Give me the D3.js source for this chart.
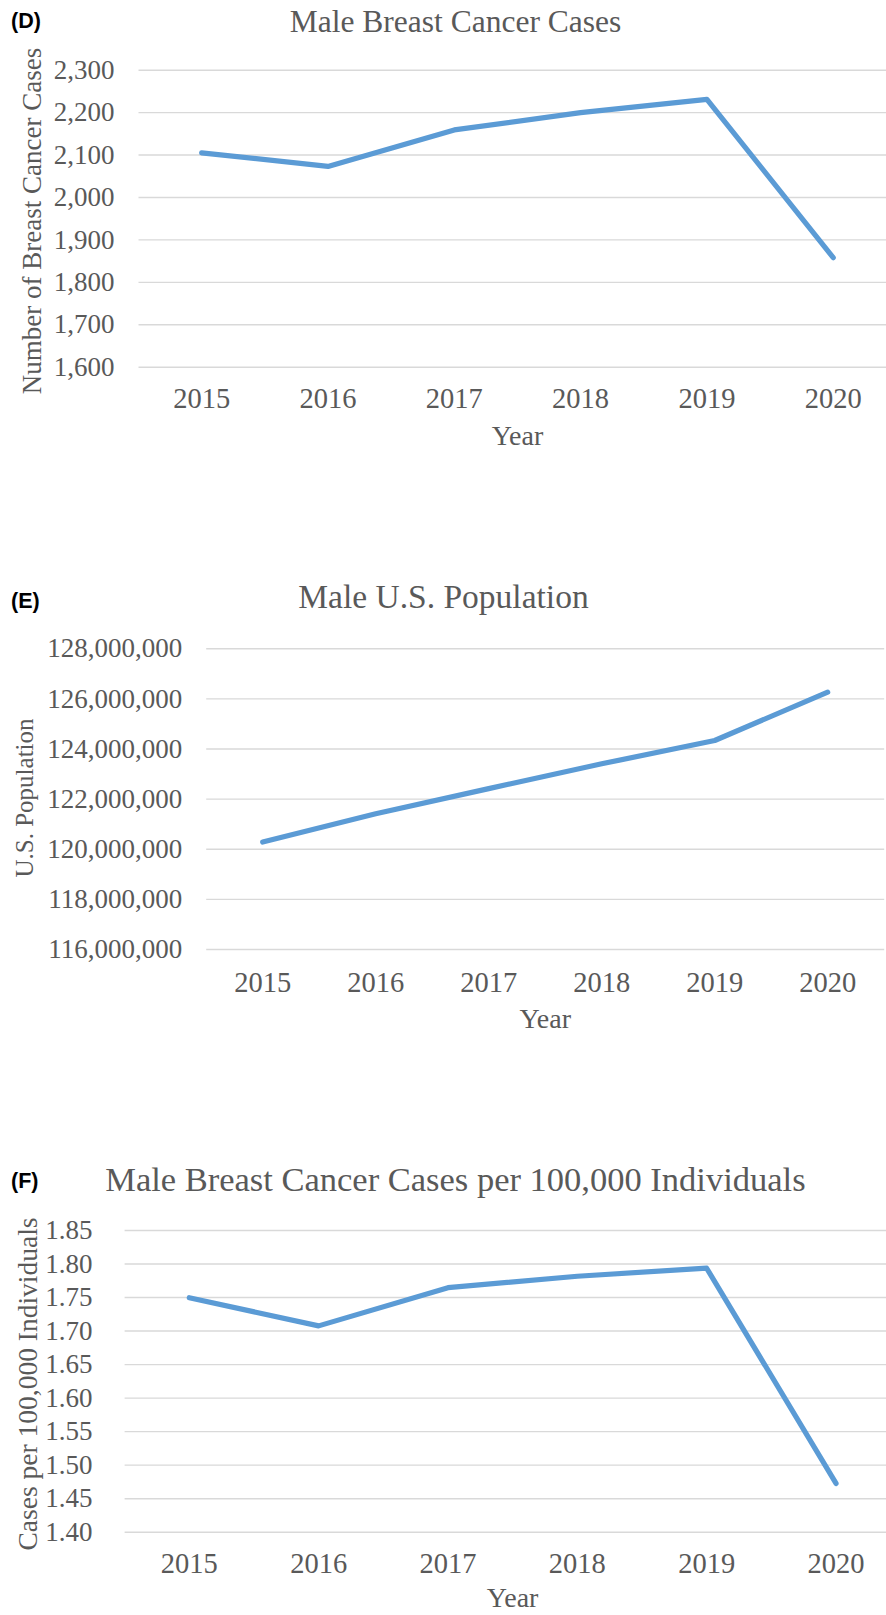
<!DOCTYPE html>
<html>
<head>
<meta charset="utf-8">
<script src="https://cdn.jsdelivr.net/npm/d3@7"></script>
<style>
  html, body { margin: 0; padding: 0; background: #ffffff; }
  svg { display: block; }
</style>
</head>
<body>
<svg id="chart" width="886" height="1615"></svg>
<script>
// ---------- data ----------
const years = ["2015", "2016", "2017", "2018", "2019", "2020"];

const casesValues = [2104, 2072, 2158, 2199, 2230, 1857];
const casesTicks = [1600, 1700, 1800, 1900, 2000, 2100, 2200, 2300];

const populationValues = [120270000, 121400000, 122400000, 123390000, 124320000, 126250000];
const populationTicks = [116000000, 118000000, 120000000, 122000000, 124000000, 126000000, 128000000];

const rateValues = [1.749, 1.707, 1.764, 1.781, 1.793, 1.472];
const rateTicks = [1.40, 1.45, 1.50, 1.55, 1.60, 1.65, 1.70, 1.75, 1.80, 1.85];

const panelLetters = ["(D)", "(E)", "(F)"];
const panelTitles = ["Male Breast Cancer Cases", "Male U.S. Population", "Male Breast Cancer Cases per 100,000 Individuals"];
const yAxisTitles = ["Number of Breast Cancer Cases", "U.S. Population", "Cases per 100,000 Individuals"];
const xAxisTitle = "Year";

// ---------- layout / style ----------
const W = 886, H = 1615;
const lineColor = "#5B9BD5";
const gridColor = "#D9D9D9";
const textColor = "#595959";
const serif = "'Liberation Serif', 'Times New Roman', Times, serif";

const panels = [
  { letter: panelLetters[0], title: panelTitles[0], yTitle: yAxisTitles[0],
    values: casesValues, ticks: casesTicks, fmt: d3.format(","),
    xRange: [138.5, 896.4], yRange: [366.7, 69.7],
    letterY: 28, titleX: 455.5, titleY: 32, titleSize: 31.5,
    tickPad: 24, xLabelY: 408, yearY: 445,
    yTitleX: 41, yTitleY: 221, yTitleSize: 27 },
  { letter: panelLetters[1], title: panelTitles[1], yTitle: yAxisTitles[1],
    values: populationValues, ticks: populationTicks, fmt: d3.format(","),
    xRange: [206.2, 884.2], yRange: [949.0, 648.3],
    letterY: 608, titleX: 443.5, titleY: 608, titleSize: 33.5,
    tickPad: 24, xLabelY: 991.5, yearY: 1028,
    yTitleX: 33, yTitleY: 798, yTitleSize: 25 },
  { letter: panelLetters[2], title: panelTitles[2], yTitle: yAxisTitles[2],
    values: rateValues, ticks: rateTicks, fmt: d3.format(".2f"),
    xRange: [124.6, 900.7], yRange: [1531.7, 1230.0],
    letterY: 1188, titleX: 455.4, titleY: 1191, titleSize: 34.5,
    tickPad: 32, xLabelY: 1573, yearY: 1607,
    yTitleX: 37, yTitleY: 1384, yTitleSize: 27.5 }
];

const svg = d3.select("#chart");
svg.append("rect").attr("width", W).attr("height", H).attr("fill", "#ffffff");

panels.forEach(p => {
  const g = svg.append("g");

  const x = d3.scaleBand().domain(years).range(p.xRange).padding(0);
  const y = d3.scaleLinear()
    .domain([p.ticks[0], p.ticks[p.ticks.length - 1]])
    .range(p.yRange);

  // gridlines + y tick labels
  const gridW = Math.min(W, p.xRange[1]) - p.xRange[0];
  const yAxis = d3.axisLeft(y)
    .tickValues(p.ticks)
    .tickFormat(p.fmt)
    .tickSize(-gridW)
    .tickPadding(p.tickPad);
  const ya = g.append("g")
    .attr("transform", `translate(${p.xRange[0]},0)`)
    .call(yAxis);
  ya.select(".domain").remove();
  ya.selectAll(".tick line").attr("stroke", gridColor).attr("stroke-width", 1.4);
  ya.selectAll(".tick text")
    .attr("fill", textColor)
    .style("font-family", serif)
    .style("font-size", "27px");

  // x tick labels
  const xAxis = d3.axisBottom(x).tickSize(0).tickPadding(0);
  const xa = g.append("g")
    .attr("transform", `translate(0,${p.xLabelY})`)
    .call(xAxis);
  xa.select(".domain").remove();
  xa.selectAll(".tick text")
    .attr("y", 0).attr("dy", 0)
    .attr("fill", textColor)
    .style("font-family", serif)
    .style("font-size", "28.5px");

  // line
  const line = d3.line()
    .x((d, i) => x(years[i]) + x.bandwidth() / 2)
    .y(d => y(d));
  g.append("path")
    .datum(p.values)
    .attr("d", line)
    .attr("fill", "none")
    .attr("stroke", lineColor)
    .attr("stroke-width", 5.2)
    .attr("stroke-linejoin", "round")
    .attr("stroke-linecap", "round");

  // panel letter
  g.append("text")
    .attr("x", 11).attr("y", p.letterY)
    .attr("fill", "#000")
    .style("font-family", "'Liberation Sans', Arial, sans-serif")
    .style("font-weight", "bold")
    .style("font-size", "21.5px")
    .text(p.letter);

  // title
  g.append("text")
    .attr("x", p.titleX).attr("y", p.titleY)
    .attr("text-anchor", "middle")
    .attr("fill", textColor)
    .style("font-family", serif)
    .style("font-size", p.titleSize + "px")
    .text(p.title);

  // x axis title
  g.append("text")
    .attr("x", (p.xRange[0] + p.xRange[1]) / 2).attr("y", p.yearY)
    .attr("text-anchor", "middle")
    .attr("fill", textColor)
    .style("font-family", serif)
    .style("font-size", "28px")
    .text(xAxisTitle);

  // y axis title
  g.append("text")
    .attr("transform", `translate(${p.yTitleX},${p.yTitleY}) rotate(-90)`)
    .attr("text-anchor", "middle")
    .attr("fill", textColor)
    .style("font-family", serif)
    .style("font-size", p.yTitleSize + "px")
    .text(p.yTitle);
});
</script>
</body>
</html>
